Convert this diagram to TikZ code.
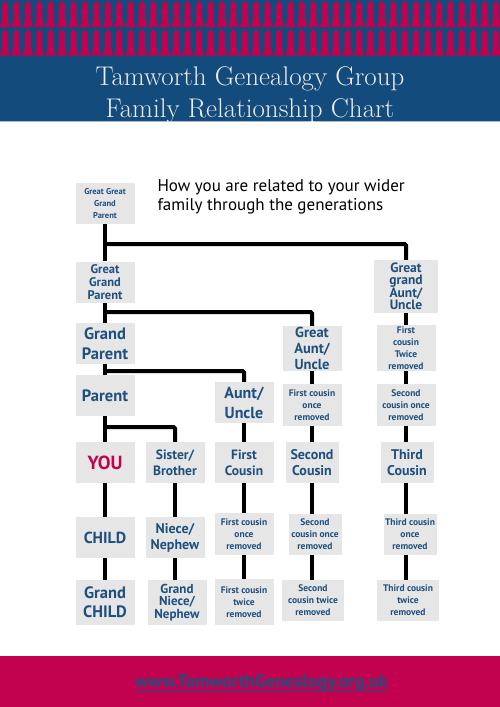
\documentclass[tikz,border=0pt]{standalone}
\usepackage{fontspec}
\newfontfamily\boxfont{PT Sans}
\usetikzlibrary{backgrounds}
\definecolor{headBlue}{HTML}{134B7C}
\definecolor{crimson}{HTML}{C2024F}
\definecolor{boxGrey}{HTML}{E6E6E6}
\definecolor{relBlue}{HTML}{1E4F7F}
\definecolor{titleGrey}{HTML}{ECECEC}
\definecolor{rimBlue}{HTML}{A9BCD0}
\newcommand\fs[2]{\fontsize{#1}{#2}\selectfont}

\begin{document}
\begin{tikzpicture}[
  x=1pt, y=-1pt,
  rel/.style={fill=boxGrey, text=relBlue, align=center, inner sep=0pt,
              minimum width=59pt, minimum height=41pt,
              font=\boxfont\bfseries\fs{13.5}{16}},
  relS/.style={rel, font=\boxfont\bfseries\fs{9.5}{12}},
  relL/.style={rel, font=\boxfont\bfseries\fs{16.5}{20}},
  link/.style={line width=4pt, draw=black, rounded corners=1.5pt},
]
\useasboundingbox (0,0) rectangle (500,707);

% ---- Cabecera ----
\fill[headBlue] (0,0) rectangle (500,121);
\draw[rimBlue, line width=1pt] (0,121) -- (500,121);
\foreach \r in {0,28.5}{
  \foreach \k in {0,...,43}{
    \fill[crimson] ({5+11.42*\k},\r) -- ++(1.5,3) -- ++(1.5,1.5) -- ++(0,15.5)
      -- ++(1,1.5) -- ++(0,2.5) -- ++(1.5,3) -- ++(-11,0) -- ++(1.5,-3)
      -- ++(0,-2.5) -- ++(1,-1.5) -- ++(0,-15.5) -- ++(1.5,-1.5) -- cycle;
  }
}
\node[text=titleGrey, font=\fs{27}{32}\addfontfeature{FakeBold=0.5}, align=center, anchor=base] (title)
  at (250,117) {Tamworth Genealogy Group\\Family Relationship Chart};

% ---- Texto de entrada ----
\node[font=\boxfont\fs{17}{19}, align=left, anchor=base west] (intro)
  at (154,210) {How you are related to your wider\\family through the generations};

% ---- Columna directa ----
\node[rel, font=\boxfont\bfseries\fs{8.5}{12}] (gggp) at (105,203.5) {Great Great\\Grand\\Parent};
\node[rel, font=\boxfont\bfseries\fs{12.5}{13}] (ggp) at (105,282) {Great\\Grand\\Parent};
\node[relL] (gp)    at (105,343.5) {Grand\\Parent};
\node[relL] (par)   at (105,395.5) {Parent};
\node[rel, text=crimson, font=\boxfont\bfseries\fs{19}{20}] (you) at (105,462.5) {YOU};
\node[relL, font=\boxfont\bfseries\fs{16}{20}] (child) at (105,537.5) {CHILD};
\node[relL, font=\boxfont\bfseries\fs{16.5}{19}, minimum height=45pt] (gch) at (105,602.5) {Grand\\CHILD};

% ---- Hermanos ----
\node[rel] (sib)    at (175,462.5) {Sister/\\Brother};
\node[rel, font=\boxfont\bfseries\fs{14}{16}] (niece) at (175,537.5) {Niece/\\Nephew};
\node[rel, font=\boxfont\bfseries\fs{13}{12.5}, minimum height=45pt] (gniece) at (177,602.5) {Grand\\Niece/\\Nephew};

% ---- Tios y primos ----
\node[relL, font=\boxfont\bfseries\fs{16}{20}] (au) at (244,402.5) {Aunt/\\Uncle};
\node[rel] (fc)     at (244,462.5) {First\\Cousin};
\node[relS, minimum height=42pt] (fcor) at (244,534) {First cousin\\once\\removed};
\node[relS, minimum height=46pt] (fctr) at (244,602) {First cousin\\twice\\removed};

% ---- Tios abuelos ----
\node[rel, font=\boxfont\bfseries\fs{14.5}{16}, minimum height=45pt] (gau) at (312,348.5) {Great\\Aunt/\\Uncle};
\node[relS, minimum height=42pt] (fcor2) at (312,405) {First cousin\\once\\removed};
\node[rel, font=\boxfont\bfseries\fs{14}{16}, minimum width=53pt] (sc) at (312,462.5) {Second\\Cousin};
\node[relS, minimum width=53pt] (scor) at (315,534.5) {Second\\cousin once\\removed};
\node[relS, minimum width=62pt] (sctr) at (313,600.5) {Second\\cousin twice\\removed};

% ---- Tios bisabuelos ----
\node[rel, font=\boxfont\bfseries\fs{13.5}{12.5}, minimum width=64pt, minimum height=53pt] (ggau) at (406,286.5) {Great\\grand\\Aunt/\\Uncle};
\node[relS, minimum height=46pt] (fctr2) at (406,348) {First\\cousin\\Twice\\removed};
\node[relS, minimum height=42pt] (scor2) at (406,405) {Second\\cousin once\\removed};
\node[rel, font=\boxfont\bfseries\fs{14}{16}, minimum width=53pt] (tc) at (407,462.5) {Third\\Cousin};
\node[relS, minimum width=53pt] (tcor) at (410,534.5) {Third cousin\\once\\removed};
\node[relS, minimum width=62pt] (tctr) at (408,600.5) {Third cousin\\twice\\removed};

% ---- Enlaces ----
\coordinate (j1) at (105,244);
\coordinate (j2) at (105,312);
\coordinate (j3) at (105,371);
\coordinate (j4) at (105,427);
\begin{scope}[on background layer]
  \draw[link] (gggp) -- (ggp) -- (gp) -- (par) -- (you) -- (child) -- (gch);
  \draw[link] (j1) -| (ggau);
  \draw[link] (j2) -| (gau);
  \draw[link] (j3) -| (au);
  \draw[link] (j4) -| (sib);
  \draw[link] (sib) -- (sib |- niece) -- (sib |- gniece);
  \draw[link] (au) -- (fc) -- (fcor) -- (fctr);
  \draw[link] (gau) -- (fcor2) -- (sc) -- (gau |- scor) -- (gau |- sctr);
  \draw[link] (ggau) -- (fctr2) -- (scor2) -- (ggau |- tc) -- (ggau |- tcor) -- (ggau |- tctr);
\end{scope}

% ---- Pie ----
\fill[crimson] (0,656) rectangle (500,707);
\node[text=relBlue, font=\boxfont\bfseries\fs{18}{20}, inner sep=0pt, anchor=base] (url)
  at (261.5,687.5) {www.TamworthGenealogy.org.uk};
\draw[relBlue, line width=0.8pt] ([yshift=1pt]url.south west) -- ([yshift=1pt]url.south east);

\end{tikzpicture}
\end{document}
